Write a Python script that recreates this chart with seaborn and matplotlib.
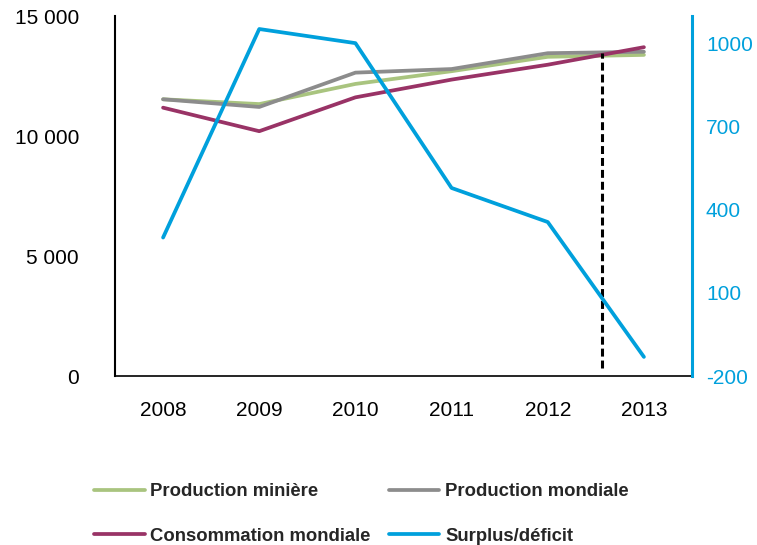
import matplotlib
matplotlib.use("Agg")
import matplotlib.pyplot as plt
import matplotlib.ticker as mticker
import seaborn as sns
import pandas as pd

# Annual series (thousand tonnes) and balance
years = ["2008", "2009", "2010", "2011", "2012", "2013"]
production_miniere = [11530, 11330, 12170, 12700, 13300, 13380]
production_mondiale = [11530, 11210, 12640, 12790, 13450, 13510]
consommation_mondiale = [11180, 10200, 11610, 12350, 12970, 13700]
surplus_deficit = [300, 1053, 1002, 479, 356, -131]

left_ticks = [0, 5000, 10000, 15000]
right_ticks = [-200, 100, 400, 700, 1000]

GREEN = "#A9C47F"
GREY = "#8C8C8C"
PURPLE = "#993366"
BLUE = "#00A0DC"

sns.set_style("white")
plt.rcParams["font.family"] = ["Liberation Sans", "DejaVu Sans"]
plt.rcParams["axes.unicode_minus"] = False

df = pd.DataFrame({
    "year": years,
    "Production minière": production_miniere,
    "Production mondiale": production_mondiale,
    "Consommation mondiale": consommation_mondiale,
    "Surplus/déficit": surplus_deficit,
})
df["pos"] = range(len(years))

fig = plt.figure(figsize=(7.57, 5.45), dpi=100)
ax = fig.add_axes([115 / 757, 1 - 376 / 545, (692 - 115) / 757, 360 / 545])
ax2 = ax.twinx()

lw = 2.7
sns.lineplot(data=df, x="pos", y="Production minière", ax=ax, color=GREEN,
             lw=lw, label="Production minière", legend=False)
sns.lineplot(data=df, x="pos", y="Production mondiale", ax=ax, color=GREY,
             lw=lw, label="Production mondiale", legend=False)
sns.lineplot(data=df, x="pos", y="Consommation mondiale", ax=ax, color=PURPLE,
             lw=lw, label="Consommation mondiale", legend=False)
sns.lineplot(data=df, x="pos", y="Surplus/déficit", ax=ax2, color=BLUE,
             lw=lw, label="Surplus/déficit", legend=False)

# Dashed marker between 2012 and 2013
ax.plot([4.56, 4.56], [330, 13460], color="black", lw=2.2,
        linestyle=(0, (2.6, 1.3)), zorder=5)

ax.set_xlim(-0.5, len(years) - 0.5)
ax.set_ylim(0, 15000)
ax2.set_ylim(-200, 1100)

ax.set_xticks(range(len(years)))
ax.set_xticklabels(years)
ax.set_yticks(left_ticks)
ax.yaxis.set_major_formatter(mticker.FuncFormatter(
    lambda v, p: f"{int(v):,}".replace(",", " ")))
ax2.set_yticks(right_ticks)

ax.set_xlabel("")
ax.set_ylabel("")
ax2.set_ylabel("")

fs = 15
ax.tick_params(axis="both", length=0, labelsize=fs, colors="black")
ax.tick_params(axis="x", pad=18)
ax.tick_params(axis="y", pad=26)
ax2.tick_params(axis="y", length=0, labelsize=fs, labelcolor=BLUE, pad=10)

for a in (ax, ax2):
    for s in a.spines.values():
        s.set_visible(False)
ax.spines["left"].set_visible(True)
ax.spines["left"].set_color("black")
ax.spines["left"].set_linewidth(1.5)
ax.spines["bottom"].set_visible(True)
ax.spines["bottom"].set_color("black")
ax.spines["bottom"].set_linewidth(1.2)
ax2.spines["right"].set_visible(True)
ax2.spines["right"].set_color(BLUE)
ax2.spines["right"].set_linewidth(2.2)

h1, l1 = ax.get_legend_handles_labels()
h2, l2 = ax2.get_legend_handles_labels()
handles = dict(zip(l1 + l2, h1 + h2))
order = ["Production minière", "Consommation mondiale",
         "Production mondiale", "Surplus/déficit"]
fig.legend([handles[k] for k in order], order, ncol=2, frameon=False,
           loc="upper left", bbox_to_anchor=(94 / 757, 1 - 483 / 545),
           prop={"weight": "bold", "size": 13.3}, handlelength=2.75,
           handletextpad=0.3, columnspacing=0.97, labelspacing=1.5,
           borderpad=0, borderaxespad=0)

fig.savefig("out.png", dpi=100)
